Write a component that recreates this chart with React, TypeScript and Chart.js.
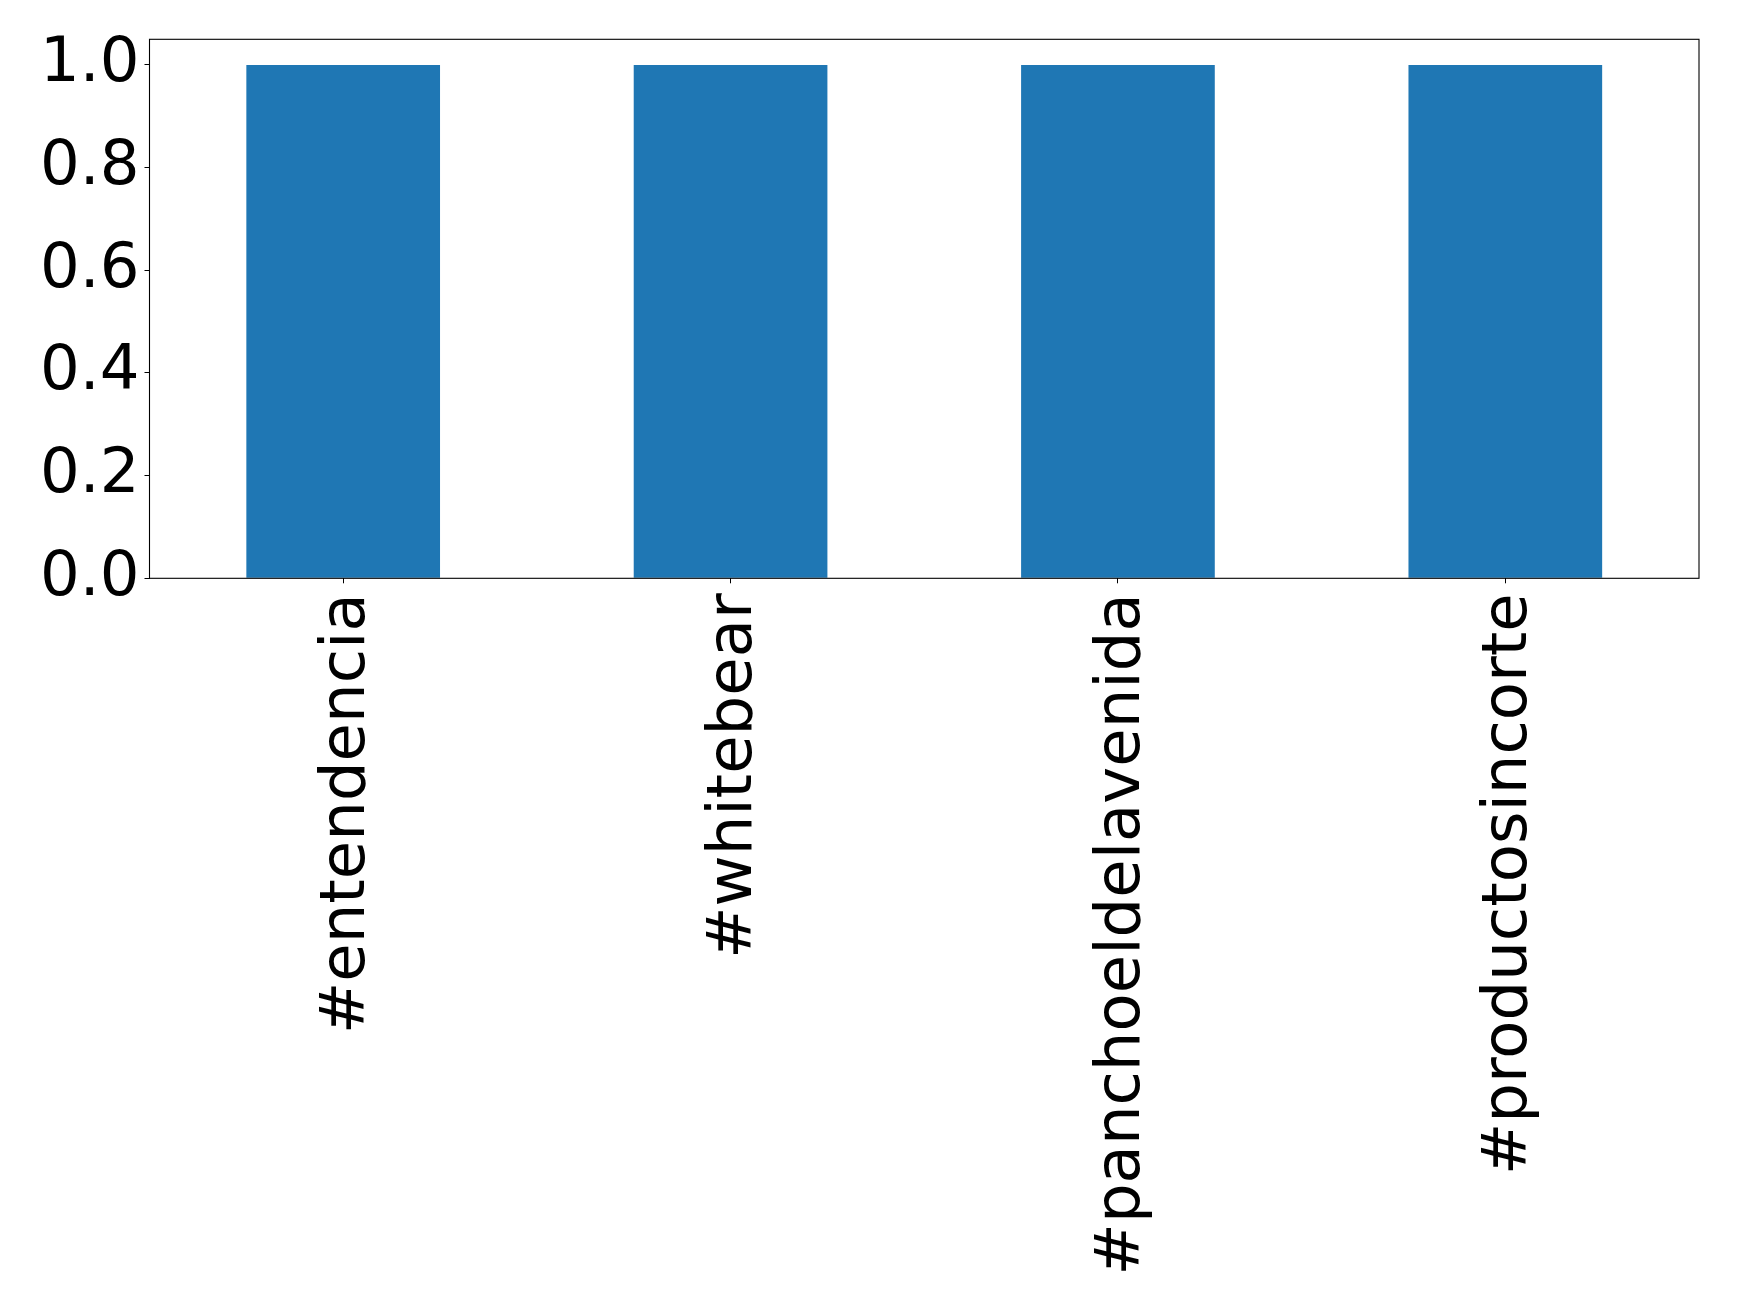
import React, { useEffect, useRef } from "react";
import { Chart, registerables } from "chart.js";

Chart.register(...registerables);

const categories = ["#entendencia", "#whitebear", "#panchoeldelavenida", "#productosincorte"];
const values = [1, 1, 1, 1];
const yTicks = [0, 0.2, 0.4, 0.6, 0.8, 1.0];

const FONT = "'DejaVu Sans', sans-serif";

const framePlugin = {
  id: "frame",
  afterDraw(chart: any) {
    const { ctx, chartArea } = chart;
    ctx.save();
    ctx.strokeStyle = "#000";
    ctx.lineWidth = 1.1;
    ctx.strokeRect(chartArea.left, chartArea.top, chartArea.right - chartArea.left, chartArea.bottom - chartArea.top);
    ctx.restore();
  },
};

export default function App() {
  const ref = useRef<HTMLCanvasElement>(null);
  useEffect(() => {
    if (!ref.current) return;
    const chart = new Chart(ref.current, {
      type: "bar",
      data: {
        labels: categories,
        datasets: [
          {
            data: values,
            backgroundColor: "#1f77b4",
            barPercentage: 0.5,
            categoryPercentage: 1,
          },
        ],
      },
      options: {
        animation: false,
        responsive: false,
        maintainAspectRatio: false,
        layout: { padding: { top: 39.3, right: 40, left: 0, bottom: 0 } },
        plugins: { legend: { display: false }, tooltip: { enabled: false } },
        scales: {
          x: {
            offset: true,
            grid: { display: true, drawOnChartArea: false, drawTicks: true, tickLength: 5, color: "#000", offset: false },
            border: { display: false },
            ticks: {
              autoSkip: false,
              maxRotation: 90,
              minRotation: 90,
              padding: 10,
              labelOffset: 4.5,
              color: "#000",
              font: { family: FONT, size: 62.5 },
            },
            afterFit(scale: any) {
              scale.height = 1310 - 578.3;
              scale.paddingLeft = 0;
              scale.paddingRight = 0;
              scale.paddingTop = 0;
              scale.paddingBottom = 0;
            },
          },
          y: {
            min: 0,
            max: 1.05,
            afterBuildTicks(scale: any) {
              scale.ticks = yTicks.map((v) => ({ value: v }));
            },
            grid: { display: true, drawOnChartArea: false, drawTicks: true, tickLength: 5, color: "#000" },
            border: { display: false },
            ticks: {
              padding: 5,
              color: "#000",
              font: { family: FONT, size: 62.5 },
              callback: (v: any) => Number(v).toFixed(1),
            },
            afterFit(scale: any) {
              scale.width = 149.5;
              scale.paddingLeft = 0;
              scale.paddingRight = 0;
              scale.paddingTop = 0;
              scale.paddingBottom = 0;
            },
          },
        },
      },
      plugins: [framePlugin],
    });
    return () => chart.destroy();
  }, []);
  return (
    <div style={{ position: "fixed", left: 0, top: 0, width: 1739, height: 1310, background: "#fff" }}>
      <canvas ref={ref} width={1739} height={1310} style={{ width: 1739, height: 1310, display: "block" }} />
    </div>
  );
}
